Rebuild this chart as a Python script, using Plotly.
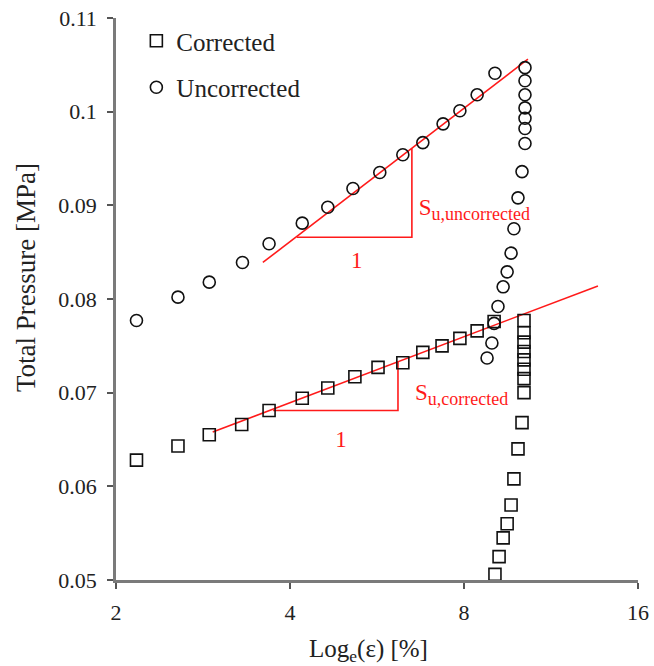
import plotly.graph_objects as go

# ---------------- data ----------------
corr_x = [2.17, 2.56, 2.90, 3.30, 3.68, 4.20, 4.65, 5.18, 5.68, 6.27, 6.79, 7.33, 7.87, 8.43, 9.02,
          10.16, 10.16, 10.16, 10.16, 10.16, 10.16, 10.16, 10.16,
          10.08, 9.92, 9.76, 9.65, 9.50, 9.35, 9.20, 9.05]
corr_y = [0.0628, 0.0643, 0.0655, 0.0666, 0.0681, 0.0694, 0.0705, 0.0717, 0.0727, 0.0732, 0.0743, 0.0750, 0.0758, 0.0766, 0.0776,
          0.0777, 0.0764, 0.0754, 0.0744, 0.0735, 0.0725, 0.0715, 0.0700,
          0.0668, 0.0640, 0.0608, 0.0580, 0.0560, 0.0545, 0.0525, 0.0506]

unc_x = [2.17, 2.56, 2.90, 3.31, 3.68, 4.20, 4.65, 5.14, 5.72, 6.27, 6.79, 7.36, 7.87, 8.43, 9.05,
         10.20, 10.20, 10.20, 10.20, 10.20, 10.20, 10.20,
         10.08, 9.92, 9.76, 9.65, 9.50, 9.35, 9.16, 9.02, 8.94, 8.77]
unc_y = [0.0777, 0.0802, 0.0818, 0.0839, 0.0859, 0.0881, 0.0898, 0.0918, 0.0935, 0.0954, 0.0967, 0.0987, 0.1001, 0.1018, 0.1041,
         0.1047, 0.1033, 0.1018, 0.1004, 0.0993, 0.0982, 0.0966,
         0.0936, 0.0908, 0.0875, 0.0849, 0.0829, 0.0813, 0.0792, 0.0774, 0.0753, 0.0737]

fit_unc_x = [3.59, 10.32]
fit_unc_y = [0.0839, 0.1056]
tri_unc_x = [4.11, 6.50, 6.50]
tri_unc_y = [0.0866, 0.0866, 0.0961]

fit_corr_x = [2.94, 13.64]
fit_corr_y = [0.0658, 0.0814]
tri_corr_x = [3.74, 6.15, 6.15]
tri_corr_y = [0.0681, 0.0681, 0.0733]

label_x = [5.22, 4.90, 6.68, 6.58]
label_y = [0.0839, 0.0648, 0.0896, 0.0698]
label_text = ["1", "1",
              "S<sub><span style='font-size:18px'>u,uncorrected</span></sub>",
              "S<sub><span style='font-size:18px'>u,corrected</span></sub>"]
label_pos = ["middle center", "middle center", "middle right", "middle right"]

x_ticks = [2, 4, 8, 16]
y_ticks = [0.05, 0.06, 0.07, 0.08, 0.09, 0.1, 0.11]
y_ticktext = ["0.05", "0.06", "0.07", "0.08", "0.09", "0.1", "0.11"]

x_title = "Log<sub>e</sub>(ε) [%]"
y_title = "Total Pressure [MPa]"

# ---------------- figure ----------------
FONT = "Liberation Serif"
RED = "#ff1a1a"
TXT = "#222"
L, R, T, B, W, H = 116, 16, 18, 86, 654, 666
PW, PH = W - L - R, H - T - B
fig = go.Figure()

for fx, fy in [(fit_unc_x, fit_unc_y), (tri_unc_x, tri_unc_y),
               (fit_corr_x, fit_corr_y), (tri_corr_x, tri_corr_y)]:
    fig.add_trace(go.Scatter(x=fx, y=fy, mode="lines",
                             line=dict(color=RED, width=1.6),
                             showlegend=False, hoverinfo="skip"))

fig.add_trace(go.Scatter(x=corr_x, y=corr_y, mode="markers", name="Corrected",
                         legendgroup="a",
                         marker=dict(symbol="square-open", size=12, color="#111",
                                     line=dict(width=1.6, color="#111"))))
fig.add_trace(go.Scatter(x=unc_x, y=unc_y, mode="markers", name="Uncorrected",
                         legendgroup="b",
                         marker=dict(symbol="circle-open", size=12, color="#111",
                                     line=dict(width=1.6, color="#111"))))

fig.add_trace(go.Scatter(x=label_x, y=label_y, mode="text", text=label_text,
                         textposition=label_pos,
                         textfont=dict(family=FONT, size=23, color=RED),
                         showlegend=False, hoverinfo="skip"))

fig.add_annotation(text=x_title, xref="paper", yref="paper",
                   x=(368 - L) / PW, y=(PH + T - 650) / PH,
                   xanchor="center", yanchor="middle", showarrow=False,
                   font=dict(family=FONT, size=25, color=TXT))
fig.add_annotation(text=y_title, xref="paper", yref="paper", textangle=-90,
                   x=(26 - L) / PW, y=(PH + T - 278) / PH,
                   xanchor="center", yanchor="middle", showarrow=False,
                   font=dict(family=FONT, size=27, color=TXT))

fig.update_layout(
    width=W, height=H,
    margin=dict(l=L, r=R, t=T, b=B),
    paper_bgcolor="white", plot_bgcolor="white",
    font=dict(family=FONT, size=20, color=TXT),
    legend=dict(x=0.039, y=1.0, xanchor="left", yanchor="top",
                font=dict(family=FONT, size=25, color=TXT),
                bgcolor="rgba(0,0,0,0)", tracegroupgap=11, itemwidth=30),
    xaxis=dict(type="log", range=[0.30103, 1.20412], tickvals=x_ticks,
               ticktext=[str(v) for v in x_ticks], automargin=False,
               showline=True, linecolor="#7a7a7a", linewidth=2.5,
               ticks="outside", ticklen=6, tickcolor="#555", tickwidth=1.5,
               showgrid=False, zeroline=False, ticklabelstandoff=5,
               tickfont=dict(family=FONT, size=22, color=TXT)),
    yaxis=dict(range=[0.05, 0.11], tickvals=y_ticks, ticktext=y_ticktext,
               automargin=False,
               showline=True, linecolor="#7a7a7a", linewidth=2.5,
               ticks="outside", ticklen=6, tickcolor="#555", tickwidth=1.5,
               showgrid=False, zeroline=False, ticklabelstandoff=6,
               tickfont=dict(family=FONT, size=22, color=TXT)),
)

fig.write_html("out.html")
